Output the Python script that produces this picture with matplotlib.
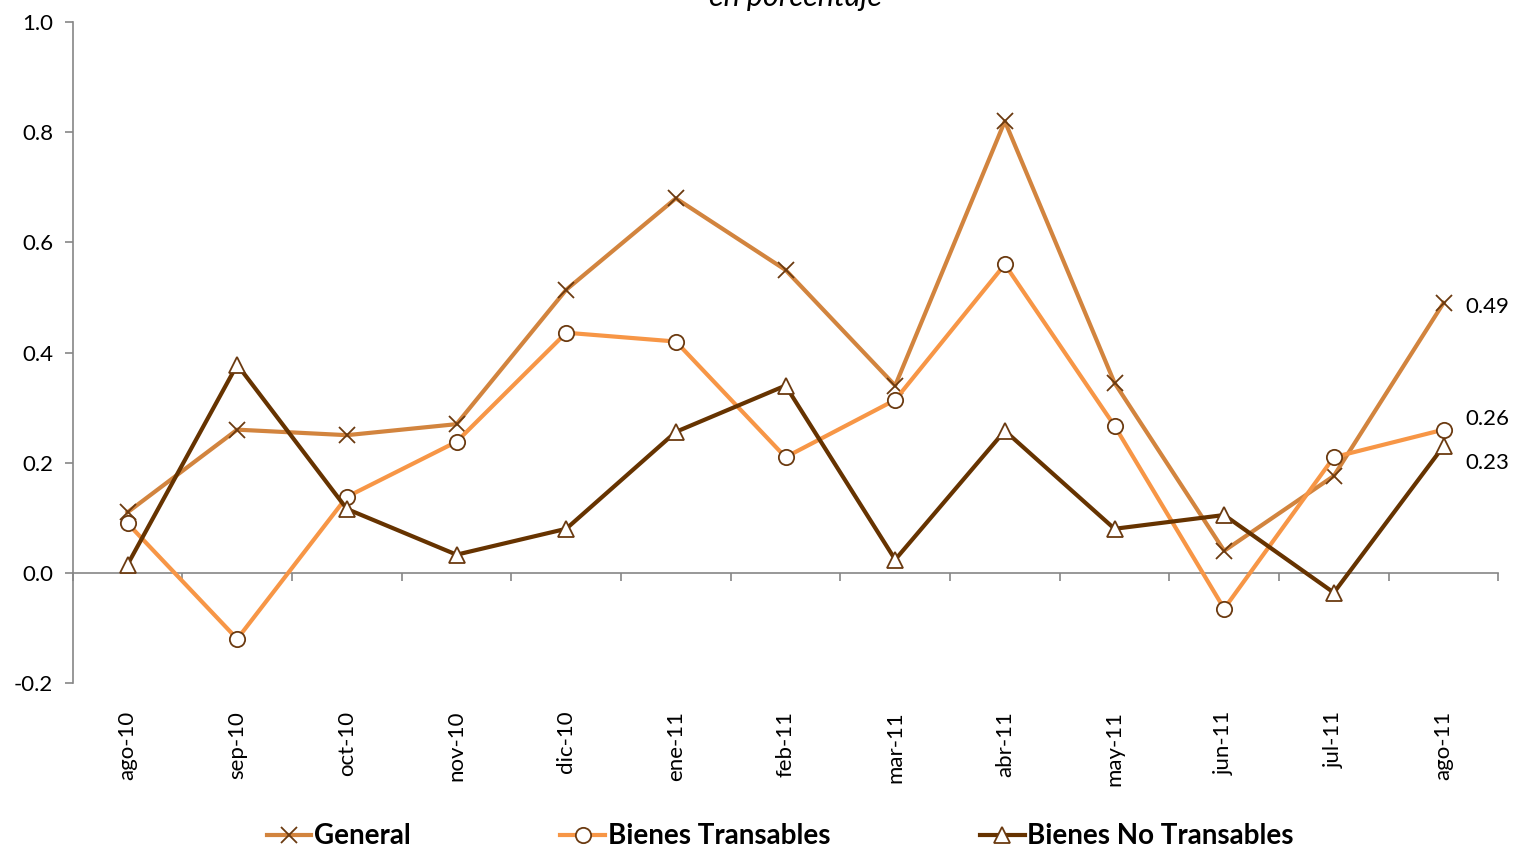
import numpy as np
import matplotlib.pyplot as plt
from matplotlib.lines import Line2D

plt.rcParams['font.family'] = ['Lato', 'DejaVu Sans']

meses = ['ago-10', 'sep-10', 'oct-10', 'nov-10', 'dic-10', 'ene-11', 'feb-11',
         'mar-11', 'abr-11', 'may-11', 'jun-11', 'jul-11', 'ago-11']
general = [0.11, 0.26, 0.25, 0.27, 0.514, 0.68, 0.55, 0.34, 0.82, 0.345, 0.04, 0.176, 0.49]
transables = [0.09, -0.12, 0.138, 0.238, 0.436, 0.42, 0.21, 0.314, 0.56, 0.267, -0.065, 0.21, 0.26]
no_transables = [0.015, 0.378, 0.116, 0.033, 0.08, 0.256, 0.34, 0.024, 0.258, 0.08, 0.105, -0.036, 0.23]

c_gen = '#D2843E'
c_tra = '#F79646'
c_not = '#663300'
edge = '#6B3A10'
gris = '#868686'

fig = plt.figure(figsize=(15.15, 8.49), dpi=100)
ax = fig.add_axes([0.048, 0.1955, 0.941, 0.7785])
x = np.arange(len(meses))

ax.plot(x, general, '-', color=c_gen, lw=3.0, marker='x', ms=11, mew=1.3,
        mec=edge, label='General', zorder=3)
ax.plot(x, transables, '-', color=c_tra, lw=3.0, marker='o', ms=11, mew=1.3,
        mec=edge, mfc='white', label='Bienes Transables', zorder=4)
ax.plot(x, no_transables, '-', color=c_not, lw=3.0, marker='^', ms=11, mew=1.3,
        mec=edge, mfc='white', label='Bienes No Transables', zorder=5)

# etiquetas del ultimo dato, desplazadas para que no se pisen
for serie, dy in ((general, -3), (transables, 8), (no_transables, -12)):
    ax.annotate('%.2f' % serie[-1], (x[-1], serie[-1]), xytext=(16, dy),
                textcoords='offset points', va='center', ha='left', fontsize=16)

ax.set_xlim(-0.5, 12.5)
ax.set_ylim(-0.2, 1.0)
ax.set_yticks(np.arange(-0.2, 1.01, 0.2))
ax.set_yticklabels(['%.1f' % v for v in np.arange(-0.2, 1.01, 0.2)])

for s in ('top', 'right'):
    ax.spines[s].set_visible(False)
ax.spines['left'].set_color(gris)
ax.spines['bottom'].set_color(gris)
ax.spines['bottom'].set_position(('data', 0))
ax.spines['bottom'].set_linewidth(1.2)
ax.spines['left'].set_linewidth(1.2)

ax.set_xticks(np.arange(-0.5, 13, 1.0))
ax.set_xticklabels([])
ax.tick_params(axis='x', length=6, color=gris, width=1.2)
ax.tick_params(axis='y', length=6, color=gris, width=1.2, labelsize=16, pad=8)

sec = ax.secondary_xaxis(0.0)
sec.set_xticks(x)
sec.set_xticklabels(meses, rotation=90, fontsize=16)
sec.tick_params(length=0, pad=20)
sec.spines['bottom'].set_visible(False)

fig.text(0.525, 1.004, 'en porcentaje', ha='center', va='center',
         style='italic', fontsize=22)

handles = [Line2D([], [], color=c_gen, lw=3.0, marker='x', ms=11, mew=1.3, mec=edge),
           Line2D([], [], color=c_tra, lw=3.0, marker='o', ms=11, mew=1.3, mec=edge, mfc='white'),
           Line2D([], [], color=c_not, lw=3.0, marker='^', ms=11, mew=1.3, mec=edge, mfc='white')]
fig.legend(handles, ['General', 'Bienes Transables', 'Bienes No Transables'],
           loc='center', bbox_to_anchor=(0.515, 0.015), ncol=3, frameon=False,
           handlelength=1.6, handletextpad=0.1, columnspacing=5.4,
           prop={'size': 20, 'weight': 'bold'})

plt.savefig('out.png', dpi=100)
